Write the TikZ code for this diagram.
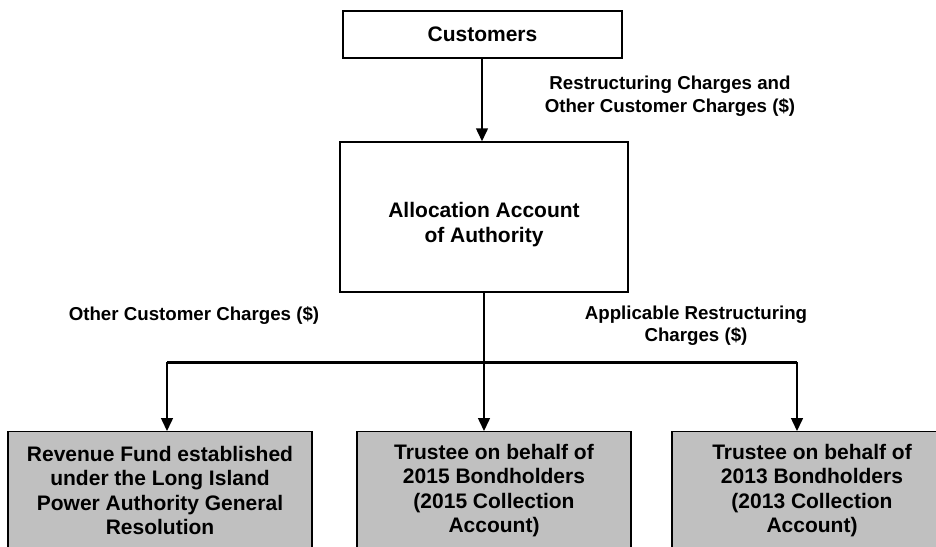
\documentclass[tikz,border=0pt]{standalone}
\usepackage{fontspec}
\setmainfont{Liberation Sans}
\usetikzlibrary{arrows.meta}
\definecolor{boxgray}{HTML}{C0C0C0}
\begin{document}
\begin{tikzpicture}[x=1pt,y=-1pt,
  boxtxt/.style={font=\fontsize{21}{24.5}\selectfont\bfseries, align=center},
  lbl/.style={font=\fontsize{18.7}{22.5}\selectfont\bfseries, align=center, inner sep=0pt},
  wbox/.style={draw, line width=1.5pt, fill=white, inner sep=0pt},
  gbox/.style={draw, line width=1.3pt, fill=boxgray, inner sep=0pt, boxtxt},
  arr/.style={line width=1.5pt, -{Triangle[length=13pt,width=12pt]}},
  bus/.style={line width=3pt}]
\useasboundingbox (0,0) rectangle (936,546);
\clip (0,0) rectangle (936,546);

\node[wbox, boxtxt, minimum width=279pt, minimum height=47pt] (cust) at (482.5,34.5) {Customers};
\node[wbox, minimum width=288pt, minimum height=150pt,
      label={[boxtxt, yshift=-7.5pt]center:Allocation Account\\of Authority}] (alloc) at (484,217) {};

\node[gbox, minimum width=304pt, minimum height=118pt, anchor=north] (rev) at (160,431)
  {Revenue Fund established\\under the Long Island\\Power Authority General\\Resolution};
\node[gbox, minimum width=274pt, minimum height=118pt, anchor=north] (trA) at (494,431)
  {Trustee on behalf of\\2015 Bondholders\\(2015 Collection\\Account)};
\node[gbox, minimum width=280pt, minimum height=118pt, anchor=north] (trB) at (812,431)
  {Trustee on behalf of\\2013 Bondholders\\(2013 Collection\\Account)};

\coordinate (bl) at (167,362);
\coordinate (br) at (797,362);

\draw[arr] (cust.south -| 482,0) -- (482,0 |- alloc.north);
\draw[bus] (bl) -- (br);
\draw[arr] (alloc.south) -- (alloc.south |- trA.north);
\draw[arr] (bl) -- (bl |- rev.north);
\draw[arr] (br) -- (br |- trB.north);

\node[lbl] (toplbl) at (670,96) {Restructuring Charges and\\Other Customer Charges (\$)};
\node[lbl] (leftlbl) at (194,316) {Other Customer Charges (\$)};
\node[lbl] (rightlbl) at (696,325.5) {Applicable Restructuring\\Charges (\$)};
\end{tikzpicture}
\end{document}
